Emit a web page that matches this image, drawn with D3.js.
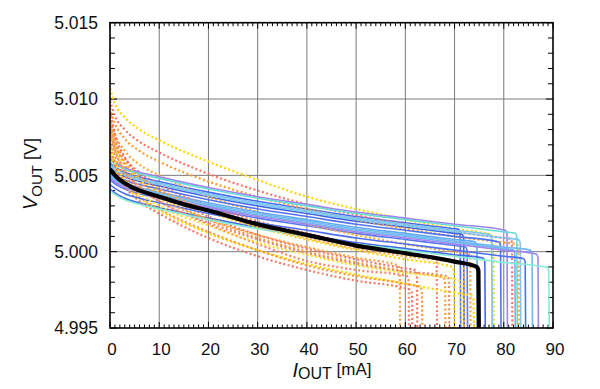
<!DOCTYPE html>
<html><head><meta charset="utf-8">
<script src="https://cdn.jsdelivr.net/npm/d3@7"></script>
<style>body{margin:0;background:#fff} text{font-family:"Liberation Sans",Arial,Helvetica,sans-serif;fill:#111}</style>
</head><body><svg id="c" width="600" height="389"></svg>
<script>
// ---- data ----
const xTicks = [0,10,20,30,40,50,60,70,80,90];
const yTicks = [4.995,5.000,5.005,5.010,5.015];

// thick black reference curve [mA, V]; drops to bottom at its last point
const blackCurve = [[0,5.0054],[1,5.0050],[2,5.0047],[4,5.0043],[7,5.0039],[10,5.0036],[15,5.0031],[20,5.0027],[30,5.0018],[40,5.0011],[50,5.0004],[60,4.9999],[70,4.99935],[74.5,4.9990]];

const solidColors = ["#4b6cf0","#3f62e0","#5a78f2","#64aaf0","#4567ea","#7bc2f4","#5273f0","#a084f2","#6cb6f2","#68dcd4","#7fc6f2","#4e70f0","#72baf4","#a286f0","#86ecd6"];
const solidCurves = [
 [[0,5.0058],[1,5.00555],[3,5.0052],[6,5.0049],[10,5.0046],[20,5.0039],[30,5.0033],[40,5.0028],[50,5.0023],[60,5.0019],[70,5.0015],[70.8,5.00147]],
 [[0,5.0055],[1,5.00525],[3,5.0049],[6,5.0046],[10,5.0043],[20,5.0036],[30,5.0030],[40,5.0025],[50,5.0020],[60,5.0016],[70,5.0012],[71.5,5.00114]],
 [[0,5.0047],[1,5.00445],[3,5.0041],[6,5.0038],[10,5.0035],[20,5.0028],[30,5.0022],[40,5.0017],[50,5.0012],[60,5.0008],[70,5.0004],[72.2,5.00031]],
 [[0,5.0051],[1,5.00485],[3,5.0045],[6,5.0042],[10,5.0039],[20,5.0032],[30,5.0026],[40,5.0021],[50,5.0016],[60,5.0012],[70,5.0008],[74.2,5.00064]],
 [[0,5.0041],[1,5.00385],[3,5.0035],[6,5.0032],[10,5.0029],[20,5.0022],[30,5.0016],[40,5.0011],[50,5.0006],[60,5.0002],[70,4.9998],[75.8,4.99958]],
 [[0,5.0057],[1,5.00545],[3,5.0051],[6,5.0048],[10,5.0045],[20,5.0038],[30,5.0032],[40,5.0027],[50,5.0022],[60,5.0018],[70,5.0014],[77.2,5.00111]],
 [[0,5.0053],[1,5.00505],[3,5.0047],[6,5.0044],[10,5.0041],[20,5.0034],[30,5.0028],[40,5.0023],[50,5.0018],[60,5.0014],[70,5.0010],[79,5.00064]],
 [[0,5.0061],[1,5.00585],[3,5.0055],[6,5.0052],[10,5.0049],[20,5.0042],[30,5.0036],[40,5.0031],[50,5.0026],[60,5.0022],[70,5.0018],[80.3,5.0014]],
 [[0,5.0049],[1,5.00465],[3,5.0043],[6,5.0040],[10,5.0037],[20,5.0030],[30,5.0024],[40,5.0019],[50,5.0014],[60,5.0010],[70,5.0006],[80,5.0002],[81.9,5.00013]],
 [[0,5.0060],[1,5.00575],[3,5.0054],[6,5.0051],[10,5.0048],[20,5.0041],[30,5.0035],[40,5.0030],[50,5.0025],[60,5.0021],[70,5.0017],[80,5.0013],[82.3,5.00122]],
 [[0,5.0056],[1,5.00535],[3,5.0050],[6,5.0047],[10,5.0044],[20,5.0037],[30,5.0031],[40,5.0026],[50,5.0021],[60,5.0017],[70,5.0013],[80,5.0009],[83,5.00079]],
 [[0,5.0044],[1,5.00415],[3,5.0038],[6,5.0035],[10,5.0032],[20,5.0025],[30,5.0019],[40,5.0014],[50,5.0009],[60,5.0005],[70,5.0001],[80,4.9997],[84,4.99955]],
 [[0,5.0050],[1,5.00475],[3,5.0044],[6,5.0041],[10,5.0038],[20,5.0031],[30,5.0025],[40,5.0020],[50,5.0015],[60,5.0011],[70,5.0007],[80,5.0003],[85.4,5.0001]],
 [[0,5.0048],[1,5.00455],[3,5.0042],[6,5.0039],[10,5.0036],[20,5.0029],[30,5.0023],[40,5.0018],[50,5.0013],[60,5.0009],[70,5.0005],[80,5.0001],[86.6,4.99985]],
 [[0,5.0040],[1,5.00375],[3,5.0034],[6,5.0031],[10,5.0028],[20,5.0021],[30,5.0015],[40,5.0010],[50,5.0005],[60,5.0001],[70,4.9997],[80,4.9993],[88.8,4.99897]]
];

const dottedColors = ["#ffd400","#f47664","#fa9c30","#fba43c","#f27a68","#ffd000","#f07462","#f89c38","#f4846e","#ffd800","#f89a3a","#f07a6a","#f9a040","#e38a78","#ffe030","#f9a444"];
const dottedCurves = [
 [[0,5.0107],[1,5.0097],[3,5.0088],[6,5.0080],[10,5.0073],[20,5.0059],[30,5.0047],[40,5.0036],[50,5.0028],[60,5.0021],[70,5.0015],[77.5,5.0011]],
 [[0,5.0099],[1,5.0089],[3,5.0080],[6,5.0072],[10,5.0065],[20,5.0051],[30,5.0040],[40,5.0031],[50,5.0024],[60,5.0018],[70,5.0013],[80,5.0009],[81.3,5.00085]],
 [[0,5.0094],[1,5.0084],[3,5.0074],[6,5.0066],[10,5.0059],[20,5.0046],[30,5.0036],[40,5.0028],[50,5.0021],[60,5.0015],[70,5.0010],[80,5.0006],[82.6,5.0005]],
 [[0,5.0088],[1,5.0077],[3,5.0066],[6,5.0057],[10,5.0050],[20,5.0036],[30,5.0026],[40,5.0018],[50,5.0011],[60,5.0005],[70,5.0000],[72.8,4.9999]],
 [[0,5.0085],[1,5.0073],[3,5.0061],[6,5.0052],[10,5.0044],[20,5.0030],[30,5.0020],[40,5.0012],[50,5.0005],[60,4.9999],[66,4.9996]],
 [[0,5.0079],[1,5.0068],[3,5.0057],[6,5.0047],[10,5.0039],[20,5.0026],[30,5.0016],[40,5.0008],[50,5.0001],[60,4.9995],[69.5,4.9990]],
 [[0,5.0092],[1,5.0077],[3,5.0062],[6,5.0050],[10,5.0040],[20,5.0023],[30,5.0011],[40,5.0002],[50,4.9995],[60,4.9989],[62,4.9988]],
 [[0,5.0086],[1,5.0072],[3,5.0057],[6,5.0046],[10,5.0037],[20,5.0021],[30,5.0009],[40,5.0000],[50,4.9993],[60,4.9987],[67.7,4.9983]],
 [[0,5.0081],[1,5.0067],[3,5.0053],[6,5.0042],[10,5.0033],[20,5.0018],[30,5.0005],[40,4.9994],[50,4.9988],[60.3,4.9984]],
 [[0,5.0066],[1,5.0055],[3,5.0044],[6,5.0035],[10,5.0027],[20,5.0012],[30,5.0001],[40,4.9992],[50,4.9985],[60,4.9979],[70,4.9973],[73.5,4.9971]],
 [[0,5.0071],[1,5.0059],[3,5.0046],[6,5.0036],[10,5.0028],[20,5.0013],[30,5.0001],[40,4.9991],[50,4.9984],[60,4.9979],[63,4.9977]],
 [[0,5.0068],[1,5.0056],[3,5.0043],[6,5.0033],[10,5.0025],[20,5.0009],[30,4.9997],[40,4.9988],[50,4.9981],[60,4.9976],[61,4.9975]],
 [[0,5.0077],[1,5.0066],[3,5.0053],[6,5.0043],[10,5.0035],[20,5.0021],[30,5.0011],[40,5.0003],[50,4.9996],[58.5,4.9991]],
 [[0,5.0073],[1,5.0062],[3,5.0050],[6,5.0041],[10,5.0033],[20,5.0019],[30,5.0008],[40,4.9999],[50,4.9992],[60,4.9987],[68.5,4.9984]],
 [[0,5.0070],[1,5.0059],[3,5.0047],[6,5.0038],[10,5.0030],[20,5.0017],[30,5.0006],[40,4.9998],[50,4.9991],[60,4.9986],[70,4.9982],[71,4.9981]],
 [[0,5.0082],[1,5.0071],[3,5.0059],[6,5.0049],[10,5.0041],[20,5.0027],[30,5.0017],[40,5.0009],[50,5.0002],[60,4.9997],[70,4.9993],[71.5,4.9992]]
];

// ---- layout ----
const L = 110, R = 553, T = 22.7, B = 328;
const x = d3.scaleLinear().domain([0,90]).range([L,R]);
const y = d3.scaleLinear().domain([4.995,5.015]).range([B,T]);
const svg = d3.select("#c");

svg.append("defs").append("clipPath").attr("id","clip")
  .append("rect").attr("x",L).attr("y",T).attr("width",R-L).attr("height",B-T);

// grid
const grid = svg.append("g").attr("stroke","#7a7a7a").attr("stroke-width",1);
xTicks.slice(1,-1).forEach(t => grid.append("line").attr("x1",x(t)).attr("x2",x(t)).attr("y1",T).attr("y2",B));
yTicks.slice(1,-1).forEach(t => grid.append("line").attr("y1",y(t)).attr("y2",y(t)).attr("x1",L).attr("x2",R));

// minor ticks
const tk = svg.append("g").attr("stroke","#000").attr("stroke-width",1);
d3.range(0,91,1).forEach(v => {
  const len = v % 10 === 0 ? 6 : 3.5;
  tk.append("line").attr("x1",x(v)).attr("x2",x(v)).attr("y1",B).attr("y2",B-len);
  tk.append("line").attr("x1",x(v)).attr("x2",x(v)).attr("y1",T).attr("y2",T+len);
});
d3.range(0,21,1).forEach(i => {
  const v = 4.995 + i*0.001;
  const len = i % 5 === 0 ? 7 : 5;
  tk.append("line").attr("y1",y(v)).attr("y2",y(v)).attr("x1",L).attr("x2",L+len);
  tk.append("line").attr("y1",y(v)).attr("y2",y(v)).attr("x1",R).attr("x2",R-len);
});

// curves
const line = d3.line().x(d => x(d[0])).y(d => y(d[1])).curve(d3.curveMonotoneX);
function withDrop(pts){
  const e = pts[pts.length-1];
  return pts.concat([[e[0]+0.35, e[1]-0.00025],[e[0]+0.45, 4.9945]]);
}
const plot = svg.append("g").attr("clip-path","url(#clip)").attr("fill","none");

const order = [];
for (let i = 0; i < Math.max(solidCurves.length, dottedCurves.length); i++) {
  if (i < dottedCurves.length) order.push(["d", i]);
  if (i < solidCurves.length) order.push(["s", i]);
}
order.forEach(([k,i]) => {
  if (k === "s") {
    plot.append("path").attr("d", line(withDrop(solidCurves[i])))
      .attr("stroke", solidColors[i]).attr("stroke-width",1.6);
  } else {
    plot.append("path").attr("d", line(withDrop(dottedCurves[i])))
      .attr("stroke", dottedColors[i]).attr("stroke-width",2.2)
      .attr("stroke-dasharray","2,2.4");
  }
});
plot.append("path").attr("d", line(withDrop(blackCurve)))
  .attr("stroke","#000").attr("stroke-width",4.2).attr("stroke-linejoin","round");

// frame
svg.append("rect").attr("x",L).attr("y",T).attr("width",R-L).attr("height",B-T)
  .attr("fill","none").attr("stroke","#000").attr("stroke-width",1.6);

// tick labels
const fmt = d3.format(".3f");
svg.append("g").selectAll("text").data(yTicks).join("text")
  .attr("x",98).attr("y",d => y(d)).attr("dy","0.36em")
  .attr("text-anchor","end").attr("font-size",17.5).text(d => fmt(d));
svg.append("g").selectAll("text").data(xTicks).join("text")
  .attr("x",d => x(d)+2).attr("y",355)
  .attr("text-anchor","middle").attr("font-size",17).text(d => d);

// axis titles
const xt = svg.append("text").attr("x",332).attr("y",377).attr("text-anchor","middle");
xt.append("tspan").attr("font-size",20).attr("font-style","italic").text("I");
xt.append("tspan").attr("font-size",16).attr("dy",2).text("OUT");
xt.append("tspan").attr("font-size",17).attr("dy",-4).text(" [mA]");

const yt = svg.append("text").attr("transform","translate(37,174) rotate(-90)").attr("text-anchor","middle");
yt.append("tspan").attr("font-size",20).attr("font-style","italic").text("V");
yt.append("tspan").attr("font-size",15).attr("dy",5).text("OUT");
yt.append("tspan").attr("font-size",18).attr("dy",-5).text(" [V]");
</script></body></html>
